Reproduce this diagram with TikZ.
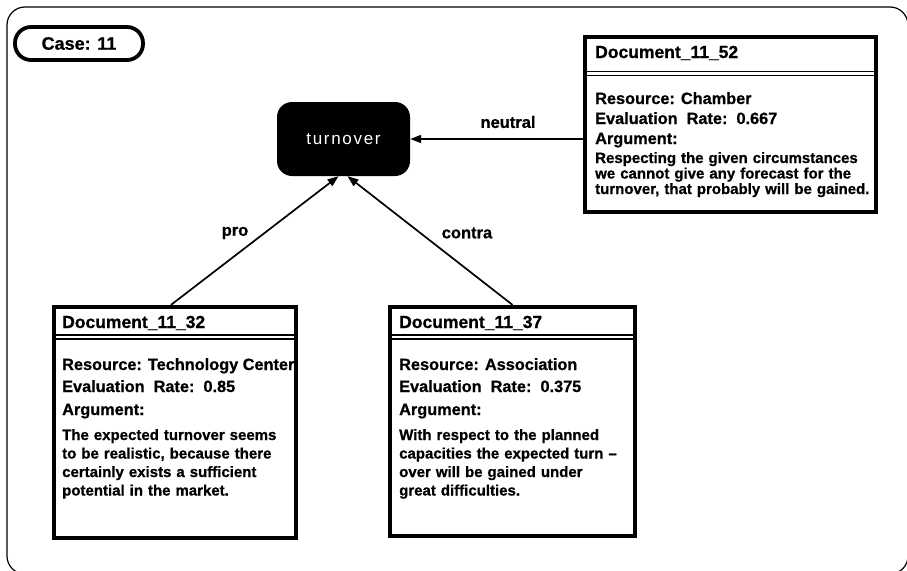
\documentclass[tikz,border=0pt]{standalone}
\usepackage{fontspec}
\setmainfont{Liberation Sans}[BoldFeatures={FakeBold=0.8}]
\newfontfamily\conceptfamily[LetterSpace=10]{Liberation Sans}
\usetikzlibrary{arrows.meta,calc}

% type sizes used in the argument map
\newcommand\dtitle{\bfseries\fontsize{17.5}{20}\selectfont}
\newcommand\dfield{\bfseries\fontsize{16.3}{19}\selectfont}
\newcommand\dargs{\bfseries\fontsize{15}{18.5}\selectfont}
\newcommand\dargstight{\bfseries\fontsize{15}{15.5}\selectfont}
\newcommand\dlabel{\bfseries\fontsize{16.5}{19}\selectfont}
\newcommand\dcase{\bfseries\fontsize{18}{21}\selectfont}
\newcommand\dconcept{\conceptfamily\fontsize{17}{20}\selectfont}

\begin{document}
\begin{tikzpicture}[x=1pt,y=-1pt,
  frame/.style={line width=1.2pt, rounded corners=18pt},
  pill/.style={draw, line width=3.8pt, rounded corners=16pt, minimum width=128pt,
    minimum height=33pt, inner sep=0pt, font=\dcase},
  concept/.style={fill=black, rounded corners=15pt, minimum width=133pt,
    minimum height=74pt, inner sep=0pt, text=white, font=\dconcept},
  docbox/.style={draw, line width=3.8pt, inner sep=0pt},
  sepline/.style={line width=1.5pt},
  doctitle/.style={anchor=base west, inner sep=0pt, font=\dtitle},
  field/.style={anchor=base west, inner sep=0pt, font=\dfield},
  argtext/.style={anchor=base west, inner sep=0pt, align=left, text width=300pt, font=\dargs},
  link/.style={line width=1.7pt, -{Triangle[length=11pt,width=8pt]}},
  lbl/.style={inner sep=0pt, font=\dlabel}]

\useasboundingbox (0,0) rectangle (907,570);
\fill[white] (0,0) rectangle (907,570);

% outer frame of the case sheet
\draw[frame] (7,7) rectangle (908,574);

% case tag
\node[pill] (case) at (79,43.5) {Case: 11};

% central issue
\node[concept] (turn) at (343.5,139) {turnover};

% document boxes
\node[docbox, minimum width=291.5pt, minimum height=175.5pt] (d52) at (730.5,124.5) {};
\node[docbox, minimum width=242.5pt, minimum height=231.5pt] (d32) at (175,422.5) {};
\node[docbox, minimum width=245.5pt, minimum height=229.5pt] (d37) at (512.5,421.5) {};

% double rules below the titles
\draw[sepline] (584,71.5) -- (877,71.5);
\draw[sepline] (584,75.5) -- (877,75.5);
\draw[sepline] (53,335) -- (297,335);
\draw[sepline] (53,339) -- (297,339);
\draw[sepline] (389,335) -- (636,335);
\draw[sepline] (389,339) -- (636,339);

% Document_11_52
\node[doctitle] (t52) at (595,58) {Document\_11\_52};
\node[field] (r52) at (595,104) {Resource: Chamber};
\node[field] (e52) at (595,124) {Evaluation\ \ Rate:\ \ 0.667};
\node[field] (a52) at (595,144) {Argument:};
\node[argtext, font=\dargstight] (g52) at (595,163)
  {Respecting the given circumstances\\we cannot give any forecast for the\\turnover, that probably will be gained.};

% Document_11_32
\node[doctitle] (t32) at (62,328) {Document\_11\_32};
\node[field] (r32) at (62,370) {Resource: Technology Center};
\node[field] (e32) at (62,392) {Evaluation\ \ Rate:\ \ 0.85};
\node[field] (a32) at (62,415) {Argument:};
\node[argtext] (g32) at (62,440)
  {The expected turnover seems\\to be realistic, because there\\certainly exists a sufficient\\potential in the market.};

% Document_11_37
\node[doctitle] (t37) at (399,328) {Document\_11\_37};
\node[field] (r37) at (399,370) {Resource: Association};
\node[field] (e37) at (399,392) {Evaluation\ \ Rate:\ \ 0.375};
\node[field] (a37) at (399,415) {Argument:};
\node[argtext] (g37) at (399,440)
  {With respect to the planned\\capacities the expected turn --\\over will be gained under\\great difficulties.};

% relations
\draw[link] (d52.west |- turn.east) -- (turn.east);
\draw[link] ($(d32.north)+(-4,0)$) -- ($(turn.south)+(-5,0)$);
\draw[link] (d37.north) -- ($(turn.south)+(4,0)$);

\node[lbl] (lneutral) at (508,122) {neutral};
\node[lbl] (lpro) at (235,233) {pro};
\node[lbl] (lcontra) at (467,233) {contra};
\end{tikzpicture}
\end{document}
